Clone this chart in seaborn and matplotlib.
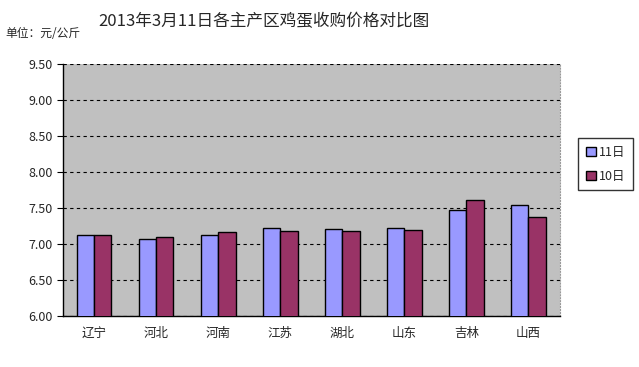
import seaborn as sns
import matplotlib.pyplot as plt
import numpy as np
import pandas as pd

# Data
regions = ['辽宁', '河北', '河南', '江苏', '湖北', '山东', '吉林', '山西']
price_11 = [7.12, 7.07, 7.12, 7.22, 7.21, 7.22, 7.47, 7.54]
price_10 = [7.12, 7.10, 7.17, 7.18, 7.18, 7.19, 7.61, 7.37]
series = ['11日', '10日']

df = pd.DataFrame({
    '地区': regions * 2,
    '价格': price_11 + price_10,
    '日期': [series[0]] * len(regions) + [series[1]] * len(regions),
})

sns.set_style("white")
plt.rcParams['font.family'] = ['Noto Sans CJK SC', 'DejaVu Sans']

fig = plt.figure(figsize=(6.39, 3.67), dpi=100)
ax = fig.add_axes([0.0986, 0.139, 0.777, 0.687])
ax.set_facecolor('#C0C0C0')

sns.barplot(data=df, x='地区', y='价格', hue='日期', hue_order=series,
            palette=['#9999FF', '#993366'], saturation=1, width=0.56,
            edgecolor='black', linewidth=1, ax=ax, zorder=3)

ax.set_ylim(6.0, 9.5)
ax.set_yticks(np.arange(6.0, 9.51, 0.5))
ax.set_yticklabels([f'{v:.2f}' for v in np.arange(6.0, 9.51, 0.5)], fontsize=9)
ax.yaxis.grid(True, color='black', linestyle=(0, (3, 3)), linewidth=0.8, zorder=0)
ax.set_axisbelow(True)
ax.set_xlim(-0.5, len(regions) - 0.5)

# tick marks between categories
ax.set_xticks(np.arange(len(regions)))
ax.set_xticklabels(regions, fontsize=9)
ax.tick_params(axis='x', length=0, pad=8)
ax.set_xticks(np.arange(-0.5, len(regions)), minor=True)
ax.tick_params(axis='x', which='minor', length=4, direction='out', color='black')
ax.tick_params(axis='y', length=4, direction='out', color='black', left=True)

ax.set_xlabel('')
ax.set_ylabel('')
for side in ['left', 'bottom']:
    ax.spines[side].set_color('black')
    ax.spines[side].set_linewidth(1)
ax.spines['top'].set_visible(False)
ax.spines['right'].set_color('#999999')
ax.spines['right'].set_linestyle(':')

leg = ax.legend(loc='upper left', bbox_to_anchor=(1.025, 0.73), frameon=True,
                fancybox=False, edgecolor='black', fontsize=9,
                handlelength=0.8, handleheight=0.8, handletextpad=0.3,
                labelspacing=0.9, borderpad=0.6)
leg.get_frame().set_linewidth(1)

fig.text(0.413, 0.94, '2013年3月11日各主产区鸡蛋收购价格对比图', ha='center',
         va='center', fontsize=12)
fig.text(0.008, 0.91, '单位：元/公斤', ha='left', va='center', fontsize=8.5)

fig.savefig('out.png', dpi=100)
